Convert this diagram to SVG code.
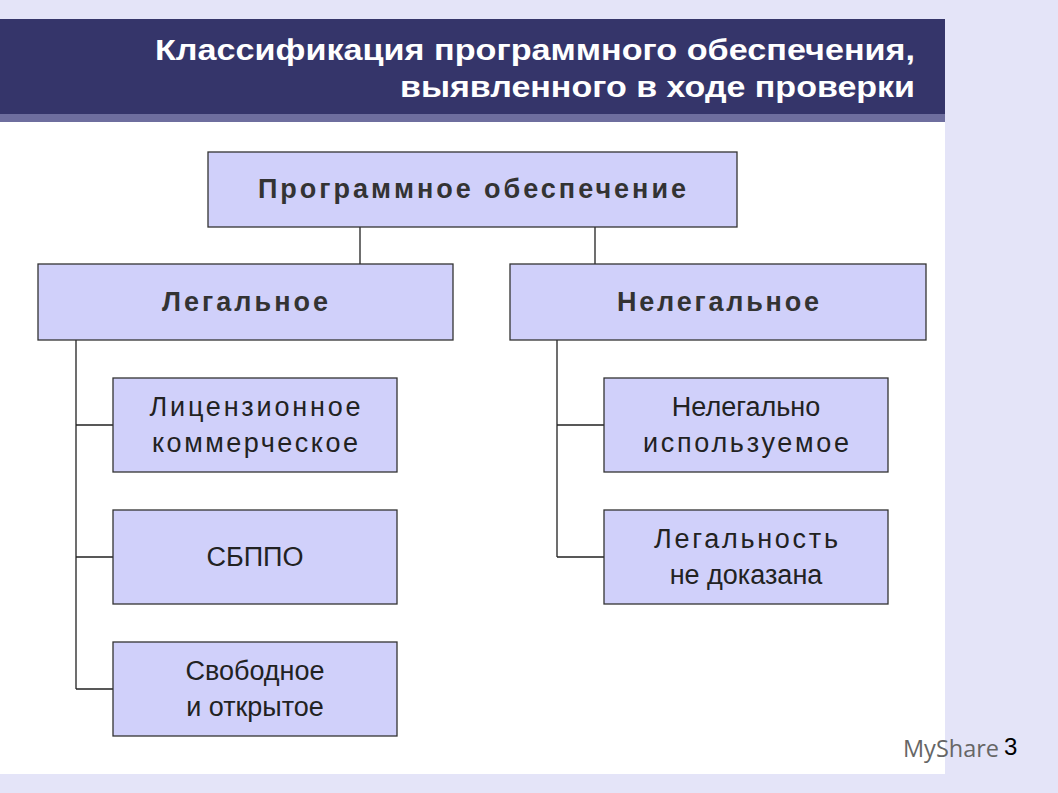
<svg xmlns="http://www.w3.org/2000/svg" width="1058" height="793" viewBox="0 0 1058 793">
<style>
.b{fill:#d0d0fa;stroke:#333;stroke-width:1.3}
.t{font-family:"Liberation Sans",Arial,sans-serif;font-size:27px;fill:#222;text-anchor:middle}
.bt{font-weight:bold;fill:#333}
.c{stroke:#222;stroke-width:1.3;fill:none}
</style>
<rect width="1058" height="793" fill="#e4e4f8"/>
<rect x="0" y="122" width="945" height="652" fill="#ffffff"/>
<rect x="0" y="19" width="945" height="95" fill="#35356a"/>
<rect x="0" y="114" width="945" height="8" fill="#6e6e9e"/>
<g font-family="'Liberation Sans Narrow','Liberation Sans',Arial,sans-serif" font-weight="bold" font-size="30" fill="#fff" text-anchor="end">
<text x="915" y="60" textLength="760" lengthAdjust="spacingAndGlyphs">Классификация программного обеспечения,</text>
<text x="915" y="97" textLength="515" lengthAdjust="spacingAndGlyphs">выявленного в ходе проверки</text>
</g>
<g id="connectors">
<path class="c" d="M360 227V265H247M595 227V265H717"/>
<path class="c" d="M38 302H76V689M76 425H113M76 557H113M76 689H113"/>
<path class="c" d="M510 302H557V557M557 425H604M557 557H604"/>
</g>
<g id="root"><rect class="b" x="208" y="152" width="529" height="75"/><text class="t bt" x="472" y="198" textLength="428" lengthAdjust="spacing">Программное обеспечение</text></g>
<g id="legal"><rect class="b" x="38" y="264" width="415" height="76"/><text class="t bt" x="245" y="311" textLength="166" lengthAdjust="spacing">Легальное</text></g>
<g id="illegal"><rect class="b" x="510" y="264" width="416" height="76"/><text class="t bt" x="718" y="311" textLength="202" lengthAdjust="spacing">Нелегальное</text></g>
<g id="lic"><rect class="b" x="113" y="378" width="284" height="94"/><text class="t" x="255" y="416" textLength="211" lengthAdjust="spacing">Лицензионное</text><text class="t" x="255" y="452" textLength="206" lengthAdjust="spacing">коммерческое</text></g>
<g id="sbppo"><rect class="b" x="113" y="510" width="284" height="94"/><text class="t" x="255" y="566">СБППО</text></g>
<g id="free"><rect class="b" x="113" y="642" width="284" height="94"/><text class="t" x="255" y="680">Свободное</text><text class="t" x="255" y="716">и открытое</text></g>
<g id="illuse"><rect class="b" x="604" y="378" width="284" height="94"/><text class="t" x="746" y="416">Нелегально</text><text class="t" x="746" y="452" textLength="206" lengthAdjust="spacing">используемое</text></g>
<g id="notproved"><rect class="b" x="604" y="510" width="284" height="94"/><text class="t" x="746" y="548" textLength="184" lengthAdjust="spacing">Легальность</text><text class="t" x="746" y="584">не доказана</text></g>
<text x="903" y="757" font-family="'Open Sans',sans-serif" font-size="24" fill="#666" textLength="96" lengthAdjust="spacingAndGlyphs">MyShare</text>
<text x="1004" y="755" font-family="'Liberation Sans',sans-serif" font-size="24" fill="#000">3</text>
</svg>
